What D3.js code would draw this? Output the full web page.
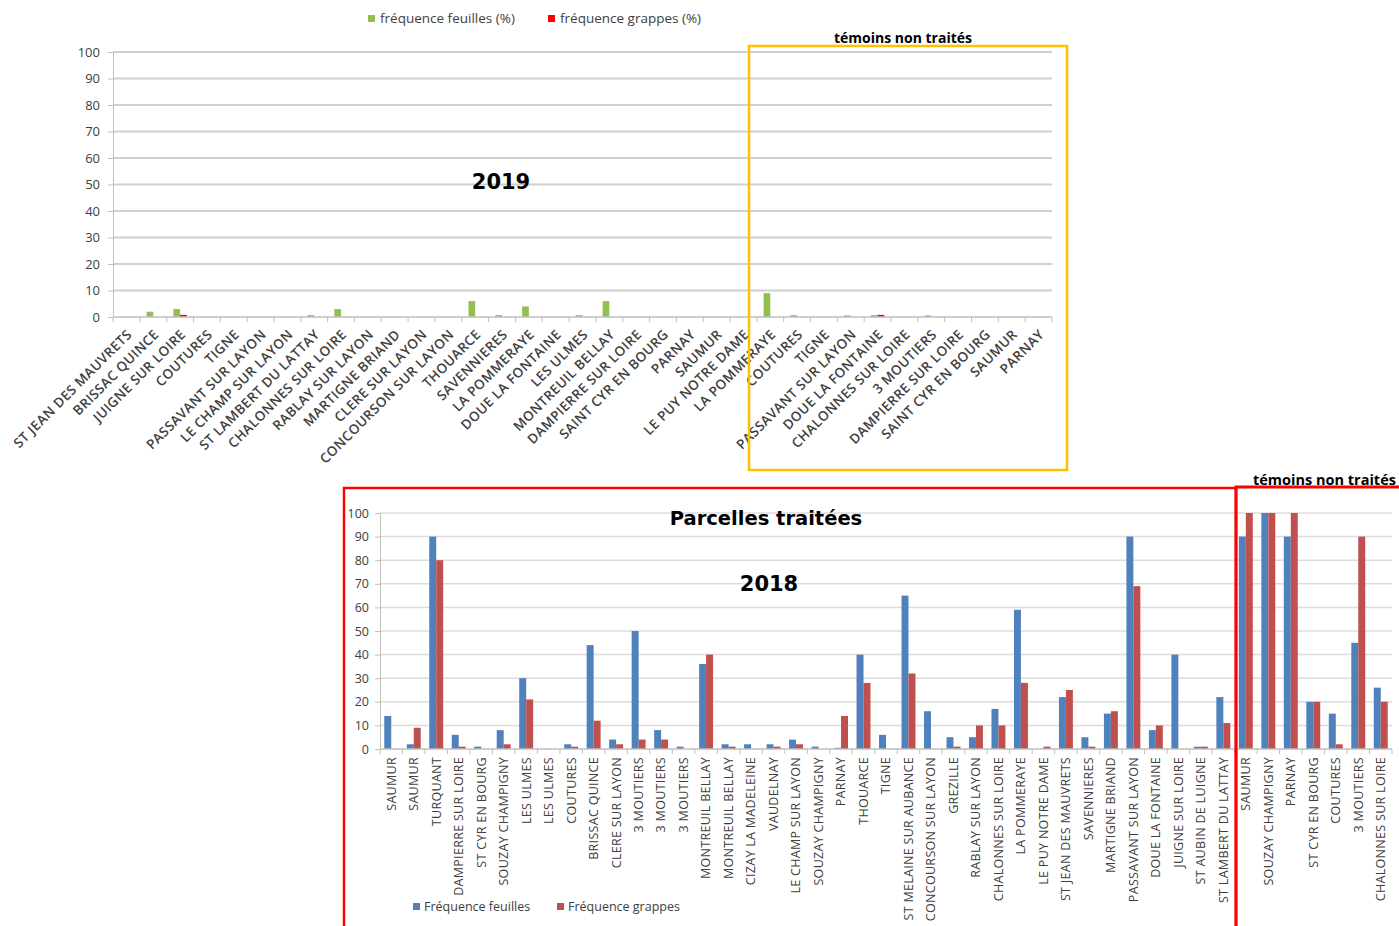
<!DOCTYPE html>
<html>
<head>
<meta charset="utf-8">
<script src="https://cdn.jsdelivr.net/npm/d3@7"></script>
<style>
  body { margin: 0; background: #fff; }
  svg text { font-family: "Open Sans", sans-serif; }
</style>
</head>
<body>
<div id="wrapper"></div>
<script>
// ---------- DATA -----------------------------------------------

// 2019 (top chart)
const communes2019 = [
  "ST JEAN DES MAUVRETS", "BRISSAC QUINCE", "JUIGNE SUR LOIRE", "COUTURES", "TIGNE",
  "PASSAVANT SUR LAYON", "LE CHAMP SUR LAYON", "ST LAMBERT DU LATTAY", "CHALONNES SUR LOIRE",
  "RABLAY SUR LAYON", "MARTIGNE BRIAND", "CLERE SUR LAYON", "CONCOURSON SUR LAYON",
  "THOUARCE", "SAVENNIERES", "LA POMMERAYE", "DOUE LA FONTAINE", "LES ULMES",
  "MONTREUIL BELLAY", "DAMPIERRE SUR LOIRE", "SAINT CYR EN BOURG", "PARNAY", "SAUMUR",
  "LE PUY NOTRE DAME", "LA POMMERAYE", "COUTURES", "TIGNE", "PASSAVANT SUR LAYON",
  "DOUE LA FONTAINE", "CHALONNES SUR LOIRE", "3 MOUTIERS", "DAMPIERRE SUR LOIRE",
  "SAINT CYR EN BOURG", "SAUMUR", "PARNAY"
];
const feuilles2019 = [0, 2, 3, 0, 0, 0, 0, 0.7, 3, 0, 0, 0, 0, 6, 0.7, 4, 0, 0.7, 6, 0,
  0, 0, 0, 0, 9, 0.7, 0, 0.6, 0.7, 0, 0.6, 0, 0, 0, 0];
const grappes2019 = [0, 0, 0.8, 0, 0, 0, 0, 0, 0, 0, 0, 0, 0, 0, 0, 0, 0, 0, 0, 0,
  0, 0, 0, 0, 0, 0, 0, 0, 0.8, 0, 0, 0, 0, 0, 0];

// 2018 (bottom chart)
const communes2018 = [
  "SAUMUR", "SAUMUR", "TURQUANT", "DAMPIERRE SUR LOIRE", "ST CYR EN BOURG",
  "SOUZAY CHAMPIGNY", "LES ULMES", "LES ULMES", "COUTURES", "BRISSAC QUINCE",
  "CLERE SUR LAYON", "3 MOUTIERS", "3 MOUTIERS", "3 MOUTIERS", "MONTREUIL BELLAY",
  "MONTREUIL BELLAY", "CIZAY LA MADELEINE", "VAUDELNAY", "LE CHAMP SUR LAYON",
  "SOUZAY CHAMPIGNY", "PARNAY", "THOUARCE", "TIGNE", "ST MELAINE SUR AUBANCE",
  "CONCOURSON SUR LAYON", "GREZILLE", "RABLAY SUR LAYON", "CHALONNES SUR LOIRE",
  "LA POMMERAYE", "LE PUY NOTRE DAME", "ST JEAN DES MAUVRETS", "SAVENNIERES",
  "MARTIGNE BRIAND", "PASSAVANT SUR LAYON", "DOUE LA FONTAINE", "JUIGNE SUR LOIRE",
  "ST AUBIN DE LUIGNE", "ST LAMBERT DU LATTAY", "SAUMUR", "SOUZAY CHAMPIGNY",
  "PARNAY", "ST CYR EN BOURG", "COUTURES", "3 MOUTIERS", "CHALONNES SUR LOIRE"
];
const feuilles2018 = [14, 2, 90, 6, 1, 8, 30, 0, 2, 44, 4, 50, 8, 1, 36, 2, 2, 2, 4, 1,
  0.5, 40, 6, 65, 16, 5, 5, 17, 59, 0, 22, 5, 15, 90, 8, 40, 1, 22, 90, 100,
  90, 20, 15, 45, 26];
const grappes2018 = [0, 9, 80, 1, 0, 2, 21, 0, 1, 12, 2, 4, 4, 0, 40, 1, 0, 1, 2, 0,
  14, 28, 0, 32, 0, 1, 10, 10, 28, 1, 25, 1, 16, 69, 10, 0, 1, 11, 100, 100,
  100, 20, 2, 90, 20];

const yTicks = [0, 10, 20, 30, 40, 50, 60, 70, 80, 90, 100];

// ---------- SVG ----------------------------------------------------
const width = 1399;
const height = 926;

const svg = d3.select("#wrapper")
  .append("svg")
  .attr("width", width)
  .attr("height", height);

// draws one grouped bar chart (two series) with its gridlines and axes
function drawBars(opts) {
  const g = svg.append("g");
  const indices = d3.range(opts.categories.length);

  const xScale = d3.scaleBand()
    .domain(indices)
    .range([opts.left, opts.right])
    .paddingInner(opts.padding)
    .paddingOuter(opts.padding / 2);

  const xSub = d3.scaleBand()
    .domain([0, 1])
    .range([0, xScale.bandwidth()]);

  const yScale = d3.scaleLinear()
    .domain([0, 100])
    .range([opts.bottom, opts.top]);

  // gridlines
  g.append("g")
    .selectAll("line")
    .data(yTicks.filter(d => d > 0))
    .join("line")
    .attr("x1", opts.left)
    .attr("x2", opts.right)
    .attr("y1", d => yScale(d))
    .attr("y2", d => yScale(d))
    .attr("stroke", opts.gridColor)
    .attr("stroke-width", opts.gridWidth);

  // y axis
  const yAxis = g.append("g")
    .attr("transform", `translate(${opts.left},0)`)
    .call(d3.axisLeft(yScale).tickValues(yTicks).tickSize(5).tickPadding(opts.yPad));
  yAxis.select(".domain").attr("stroke", "#bfbfbf");
  yAxis.selectAll(".tick line").attr("stroke", "#bfbfbf");
  yAxis.selectAll("text")
    .attr("fill", "#404040")
    .style("font-size", opts.yFont + "px")
    .style("font-family", "'Open Sans', sans-serif");

  // bars
  const series = [opts.seriesA, opts.seriesB];
  series.forEach((values, s) => {
    g.append("g")
      .selectAll("rect")
      .data(values)
      .join("rect")
      .attr("x", (d, i) => xScale(i) + xSub(s))
      .attr("width", xSub.bandwidth())
      .attr("y", d => yScale(d))
      .attr("height", d => opts.bottom - yScale(d))
      .attr("fill", opts.colors[s]);
  });

  // x axis line + ticks at category borders
  g.append("line")
    .attr("x1", opts.left)
    .attr("x2", opts.right)
    .attr("y1", opts.bottom)
    .attr("y2", opts.bottom)
    .attr("stroke", "#bfbfbf")
    .attr("stroke-width", 1.5);

  const step = xScale.step();
  g.append("g")
    .selectAll("line")
    .data(d3.range(opts.categories.length + 1))
    .join("line")
    .attr("x1", i => opts.left + i * step)
    .attr("x2", i => opts.left + i * step)
    .attr("y1", opts.bottom)
    .attr("y2", opts.bottom + 5)
    .attr("stroke", "#bfbfbf");

  // category labels
  g.append("g")
    .selectAll("text")
    .data(opts.categories)
    .join("text")
    .attr("transform", (d, i) =>
      `translate(${xScale(i) + xScale.bandwidth() / 2 + opts.labelDx},${opts.bottom + opts.labelDy}) rotate(${opts.angle})`)
    .attr("text-anchor", "end")
    .attr("dy", "0.35em")
    .attr("fill", "#404040")
    .style("font-size", opts.labelFont + "px")
    .style("font-weight", opts.labelWeight)
    .style("letter-spacing", opts.labelSpacing + "px")
    .text(d => d);

  return g;
}

// ---------- TOP CHART (2019) ----------------------------------------
drawBars({
  categories: communes2019,
  seriesA: feuilles2019,
  seriesB: grappes2019,
  colors: ["#92c050", "#ff0000"],
  left: 113, right: 1052, top: 52, bottom: 317,
  padding: 0.5,
  gridColor: "#d0d0d0", gridWidth: 2,
  yPad: 8, yFont: 13,
  angle: -45, labelDx: 3, labelDy: 15,
  labelFont: 13.5, labelWeight: 600, labelSpacing: 0.4
});

// legend 2019
const legend2019 = [
  { label: "fréquence feuilles (%)", color: "#92c050", x: 368 },
  { label: "fréquence grappes (%)", color: "#ff0000", x: 548 }
];
legend2019.forEach(l => {
  svg.append("rect").attr("x", l.x).attr("y", 15).attr("width", 7).attr("height", 7).attr("fill", l.color);
  svg.append("text").attr("x", l.x + 12).attr("y", 23)
    .attr("fill", "#404040").style("font-size", "13.5px").text(l.label);
});

svg.append("text")
  .attr("x", 501).attr("y", 189)
  .attr("text-anchor", "middle")
  .style("font-family", "'DejaVu Sans', sans-serif")
  .style("font-weight", "bold")
  .style("font-size", "21px")
  .text("2019");

// orange box "témoins non traités"
svg.append("rect")
  .attr("x", 749).attr("y", 46)
  .attr("width", 318).attr("height", 424)
  .attr("fill", "none")
  .attr("stroke", "#ffc000")
  .attr("stroke-width", 2.5);

svg.append("text")
  .attr("x", 903).attr("y", 43)
  .attr("text-anchor", "middle")
  .style("font-weight", "bold")
  .style("font-size", "14px")
  .text("témoins non traités");

// ---------- BOTTOM CHART (2018) -------------------------------------
drawBars({
  categories: communes2018,
  seriesA: feuilles2018,
  seriesB: grappes2018,
  colors: ["#4f81bd", "#c0504d"],
  left: 380, right: 1392, top: 513, bottom: 749,
  padding: 0.38,
  gridColor: "#dcdcdc", gridWidth: 1.5,
  yPad: 6, yFont: 12.5,
  angle: -90, labelDx: 0, labelDy: 8,
  labelFont: 12.5, labelWeight: 400, labelSpacing: 0.3
});

// legend 2018
const legend2018 = [
  { label: "Fréquence feuilles", color: "#4f81bd", x: 413 },
  { label: "Fréquence grappes", color: "#c0504d", x: 557 }
];
legend2018.forEach(l => {
  svg.append("rect").attr("x", l.x).attr("y", 903).attr("width", 7).attr("height", 7).attr("fill", l.color);
  svg.append("text").attr("x", l.x + 11).attr("y", 911)
    .attr("fill", "#404040").style("font-size", "12.5px").text(l.label);
});

svg.append("text")
  .attr("x", 766).attr("y", 525)
  .attr("text-anchor", "middle")
  .style("font-family", "'DejaVu Sans', sans-serif")
  .style("font-weight", "bold")
  .style("font-size", "19.5px")
  .text("Parcelles traitées");

svg.append("text")
  .attr("x", 769).attr("y", 591)
  .attr("text-anchor", "middle")
  .style("font-family", "'DejaVu Sans', sans-serif")
  .style("font-weight", "bold")
  .style("font-size", "21px")
  .text("2018");

// red boxes
svg.append("rect")
  .attr("x", 344).attr("y", 488)
  .attr("width", 892).attr("height", 450)
  .attr("fill", "none")
  .attr("stroke", "#ff0000")
  .attr("stroke-width", 2.5);

svg.append("rect")
  .attr("x", 1236).attr("y", 487)
  .attr("width", 170).attr("height", 450)
  .attr("fill", "none")
  .attr("stroke", "#ff0000")
  .attr("stroke-width", 3);

svg.append("text")
  .attr("x", 1253).attr("y", 485)
  .style("font-weight", "bold")
  .style("font-size", "14.5px")
  .text("témoins non traités");
</script>
</body>
</html>
